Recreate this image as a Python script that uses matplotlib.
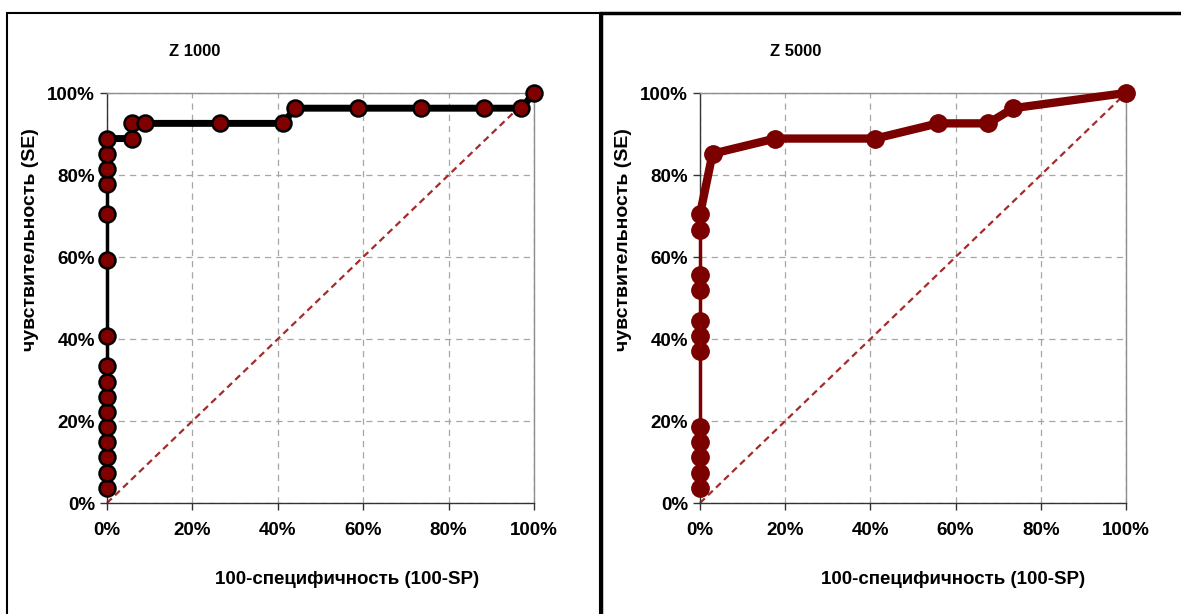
import matplotlib
matplotlib.use("Agg")
import matplotlib.pyplot as plt
from matplotlib.ticker import PercentFormatter
from matplotlib.patches import Rectangle

# ---- data (fractions) ----
# Z 1000
z1000_fpr = [0, 0, 0, 0, 0, 0, 0, 0, 0, 0, 0, 0, 0, 0, 0, 0,
             2/34, 2/34, 3/34, 9/34, 14/34, 15/34, 20/34, 25/34, 30/34, 33/34, 1.0]
z1000_tpr = [1/27, 2/27, 3/27, 4/27, 5/27, 6/27, 7/27, 8/27, 9/27, 11/27, 16/27,
             19/27, 21/27, 22/27, 23/27, 24/27,
             24/27, 25/27, 25/27, 25/27, 25/27, 26/27, 26/27, 26/27, 26/27, 26/27, 1.0]
# Z 5000
z5000_fpr = [0, 0, 0, 0, 0, 0, 0, 0, 0, 0, 0, 0,
             1/34, 6/34, 14/34, 19/34, 23/34, 25/34, 1.0]
z5000_tpr = [1/27, 2/27, 3/27, 4/27, 5/27, 10/27, 11/27, 12/27, 14/27, 15/27, 18/27, 19/27,
             23/27, 24/27, 24/27, 25/27, 25/27, 26/27, 1.0]

ticks = [0, 0.2, 0.4, 0.6, 0.8, 1.0]
titles = ["Z 1000", "Z 5000"]
xlabel = "100-специфичность (100-SP)"
ylabel = "чувствительность (SE)"

FONT = ["Liberation Sans", "DejaVu Sans"]
plt.rcParams['font.family'] = FONT

W, H = 1181, 614
fig = plt.figure(figsize=(W/100, H/100), dpi=100)

# panel borders
fig.patches.append(Rectangle((7/W, -0.1), (600-7)/W, 1.1 - 13/H, transform=fig.transFigure,
                             fill=False, edgecolor='black', linewidth=1.5))
fig.patches.append(Rectangle((601/W, -0.1), 1.0, 1.1 - 13/H, transform=fig.transFigure,
                             fill=False, edgecolor='black', linewidth=2.5))

dark = '#7B0000'
axes_px = [(107, 534), (700, 1126)]
series = [(z1000_fpr, z1000_tpr), (z5000_fpr, z5000_tpr)]
title_x = [195, 796]
xlabel_x = [347, 953]
line_colors = ['black', dark]

for i, ((x0, x1), (fx, ty)) in enumerate(zip(axes_px, series)):
    ax = fig.add_axes([x0/W, 1 - 503/H, (x1-x0)/W, (503-93)/H])
    ax.set_xlim(0, 1)
    ax.set_ylim(0, 1)
    ax.set_xticks(ticks)
    ax.set_yticks(ticks)
    ax.xaxis.set_major_formatter(PercentFormatter(1.0, decimals=0))
    ax.yaxis.set_major_formatter(PercentFormatter(1.0, decimals=0))
    ax.grid(True, linestyle=(0, (5, 4)), color='#A6A6A6', linewidth=0.9)
    ax.set_axisbelow(True)
    for s in ['top', 'right']:
        ax.spines[s].set_color('#8C8C8C')
        ax.spines[s].set_linewidth(1.0)
    for s in ['left', 'bottom']:
        ax.spines[s].set_color('#333333')
        ax.spines[s].set_linewidth(1.0)
    ax.tick_params(axis='both', direction='out', length=5, width=1, color='#333333',
                   labelsize=13.5)
    ax.tick_params(axis='x', pad=9)
    for lab in ax.get_xticklabels() + ax.get_yticklabels():
        lab.set_fontweight('bold')

    # diagonal reference
    ax.plot([0, 1], [0, 1], linestyle=(0, (3, 2)), color='#A52A2A', linewidth=1.6, zorder=2,
            clip_on=False)

    # vertical part (x == 0) drawn thinner, rest thicker
    k = max(j for j, v in enumerate(fx) if v == 0)
    lc = line_colors[i]
    ax.plot(fx[:k+1], ty[:k+1], color=lc, linewidth=2.5, zorder=3, clip_on=False)
    ax.plot(fx[k:], ty[k:], color=lc, linewidth=5 if i == 0 else 6,
            solid_capstyle='round', solid_joinstyle='round', zorder=3, clip_on=False)
    if i == 0:
        ax.plot(fx, ty, linestyle='none', marker='o', markersize=11.5,
                markerfacecolor='#800000', markeredgecolor='black', markeredgewidth=1.8,
                zorder=4, clip_on=False)
    else:
        ax.plot(fx, ty, linestyle='none', marker='o', markersize=12.5,
                markerfacecolor=dark, markeredgecolor=dark, markeredgewidth=1,
                zorder=4, clip_on=False)

    fig.text(title_x[i]/W, 1 - 52/H, titles[i], ha='center', va='center',
             fontsize=12, fontweight='bold')
    fig.text(xlabel_x[i]/W, 1 - 580/H, xlabel, ha='center', va='center',
             fontsize=13.5, fontweight='bold')
    fig.text((x0 - 76)/W, 1 - 240/H, ylabel, ha='center', va='center', rotation=90,
             fontsize=14, fontweight='bold')

fig.savefig("out.png", dpi=100)
